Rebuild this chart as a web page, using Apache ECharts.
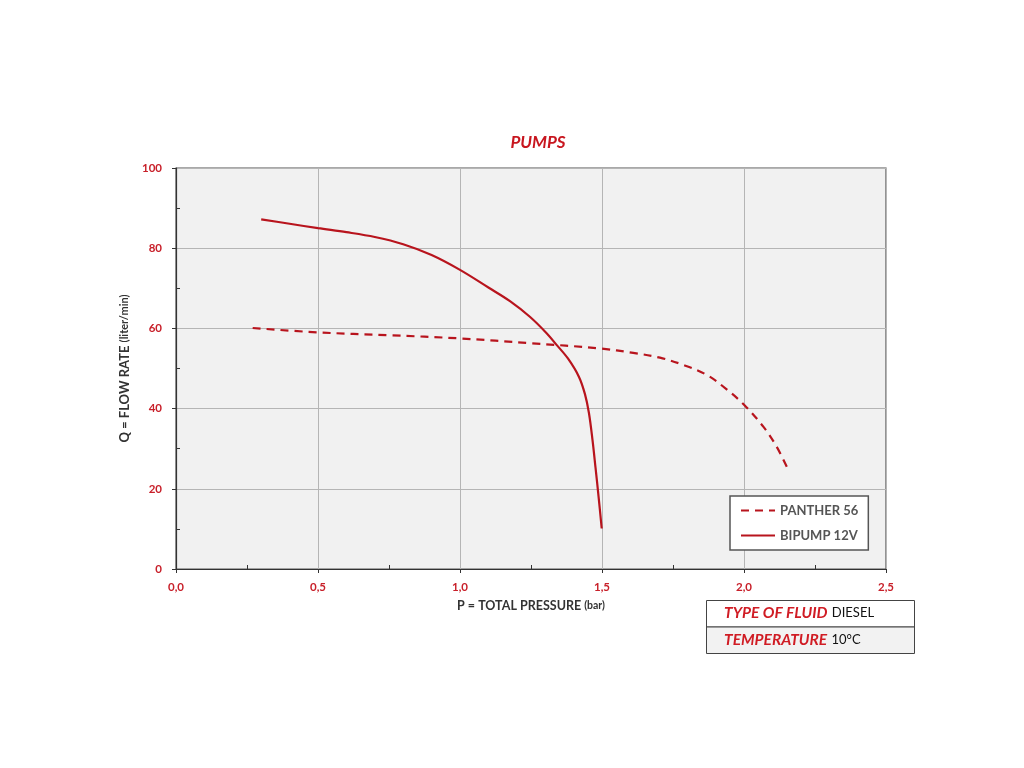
<!DOCTYPE html>
<html><head><meta charset="utf-8">
<script src="https://cdn.jsdelivr.net/npm/echarts@6/dist/echarts.min.js"></script>
<style>html,body{margin:0;padding:0;background:#fff}#c{width:1024px;height:768px}</style>
</head><body><div id="c"></div>
<script>
const titleText = 'PUMPS';
const xAxisName = 'P = TOTAL PRESSURE ';
const xAxisUnit = '(bar)';
const yAxisName = 'Q = FLOW RATE ';
const yAxisUnit = '(liter/min)';
const seriesNames = ['PANTHER 56', 'BIPUMP 12V'];
const pantherP = [0.27, 0.5, 0.75, 1.0, 1.25, 1.493, 1.61, 1.704, 1.786, 1.869, 1.939, 2.001, 2.068, 2.115, 2.156];
const pantherQ = [60.1, 59.0, 58.3, 57.5, 56.3, 55.0, 53.9, 52.7, 50.9, 48.4, 44.8, 40.9, 35.5, 30.5, 24.7];
const bipumpP = [0.3, 0.4, 0.5, 0.6, 0.7, 0.8, 0.9, 1.0, 1.1, 1.176, 1.246, 1.305, 1.34, 1.38, 1.419, 1.44, 1.454, 1.4665, 1.477, 1.488, 1.499];
const bipumpQ = [87.2, 86.1, 85.0, 84.0, 82.8, 81.0, 78.3, 74.6, 70.2, 66.8, 62.9, 58.8, 55.9, 52.5, 47.9, 43.6, 38.9, 32.2, 25.4, 18.0, 10.1];
const tableRows = [['TYPE OF FLUID', 'DIESEL'], ['TEMPERATURE', '10°C']];

const RED = '#b8141d';
const LBL = '#c8202a';
const FONT = 'Lato, "Open Sans", sans-serif';
const zip = (a, b) => a.map((v, i) => [v, b[i]]);

const chart = echarts.init(document.getElementById('c'));
const rowH = 26.5;
const tableGraphics = [];
tableRows.forEach((r, i) => {
  tableGraphics.push({
    type: 'rect', left: 706, top: 600 + i * rowH,
    shape: {width: 208, height: rowH},
    style: {fill: i === 0 ? '#ffffff' : '#f2f2f2', stroke: '#444', lineWidth: 1}
  });
  tableGraphics.push({
    type: 'text', left: 724, top: 600 + i * rowH + 5,
    style: {
      text: '{a|' + r[0] + '} {b|' + r[1] + '}',
      rich: {
        a: {fontFamily: FONT, fontSize: 15.5, fontWeight: 'bold', fontStyle: 'italic', fill: '#d01c24'},
        b: {fontFamily: FONT, fontSize: 13, fill: '#111', padding: [0, 0, 0, 1]}
      }
    }
  });
});

chart.setOption({
  backgroundColor: '#fff',
  animation: false,
  title: {
    text: titleText, left: 533, top: 129, textAlign: 'center',
    textStyle: {fontFamily: FONT, fontSize: 17, fontWeight: 'bold', fontStyle: 'italic', color: '#c8161f'}
  },
  grid: {
    left: 176, top: 168, width: 710, height: 401, show: true,
    backgroundColor: '#f1f1f1', borderColor: '#555', borderWidth: 1.2
  },
  legend: {
    orient: 'vertical', left: 730, top: 496,
    backgroundColor: '#fff', borderColor: '#555', borderWidth: 1.5,
    padding: [8, 10, 8, 10], itemGap: 12, itemWidth: 34, itemHeight: 14,
    itemStyle: {opacity: 0},
    textStyle: {fontFamily: FONT, fontSize: 13, fontWeight: 'bold', color: '#555'},
    data: seriesNames
  },
  xAxis: {
    type: 'value', min: 0, max: 2.5, interval: 0.5,
    name: '{a|' + xAxisName + '}{b|' + xAxisUnit + '}', nameLocation: 'middle', nameGap: 30,
    nameTextStyle: {rich: {
      a: {fontFamily: FONT, fontSize: 12.5, fontWeight: 'bold', color: '#333'},
      b: {fontFamily: FONT, fontSize: 10.5, fontWeight: 'bold', color: '#333'}
    }},
    axisLine: {lineStyle: {color: '#333', width: 1.2}},
    axisTick: {show: true, length: 4, lineStyle: {color: '#333'}},
    minorTick: {show: true, splitNumber: 2, length: -4, lineStyle: {color: '#333'}},
    splitLine: {show: true, lineStyle: {color: '#b5b5b5', width: 1}},
    axisLabel: {
      fontFamily: FONT, fontSize: 11.5, fontWeight: 'bold', color: LBL, margin: 12,
      formatter: v => v.toFixed(1).replace('.', ',')
    }
  },
  yAxis: {
    type: 'value', min: 0, max: 100, interval: 20,
    name: '{a|' + yAxisName + '}{b|' + yAxisUnit + '}', nameLocation: 'middle', nameGap: 39,
    nameTextStyle: {rich: {
      a: {fontFamily: FONT, fontSize: 13, fontWeight: 'bold', color: '#333'},
      b: {fontFamily: FONT, fontSize: 11, fontWeight: 'bold', color: '#333'}
    }},
    axisLine: {show: true, lineStyle: {color: '#333', width: 1.2}},
    axisTick: {show: true, length: 4, lineStyle: {color: '#333'}},
    minorTick: {show: true, splitNumber: 2, length: -4, lineStyle: {color: '#333'}},
    splitLine: {show: true, lineStyle: {color: '#b5b5b5', width: 1}},
    axisLabel: {fontFamily: FONT, fontSize: 11.5, fontWeight: 'bold', color: LBL, margin: 14}
  },
  series: [
    {
      name: seriesNames[0], type: 'line', smooth: 0.35, symbol: 'none',
      data: zip(pantherP, pantherQ),
      lineStyle: {color: RED, width: 2.2, type: [8, 6]},
      itemStyle: {color: RED}
    },
    {
      name: seriesNames[1], type: 'line', smooth: 0.35, symbol: 'none',
      data: zip(bipumpP, bipumpQ),
      lineStyle: {color: RED, width: 2.2},
      itemStyle: {color: RED}
    }
  ],
  graphic: tableGraphics
});
</script></body></html>
